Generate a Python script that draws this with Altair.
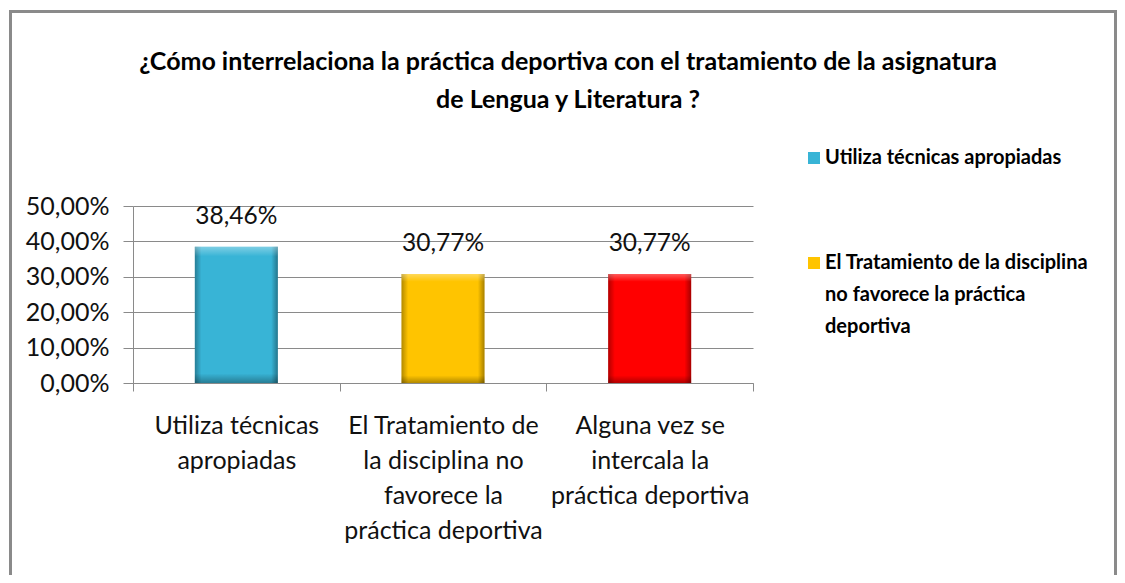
import json
import altair as alt
import pandas as pd

# ---- data ----
categories = [
    "Utiliza técnicas apropiadas",
    "El Tratamiento de la disciplina no favorece la práctica deportiva",
    "Alguna vez se intercala la práctica deportiva",
]
values = [0.3846, 0.3077, 0.3077]
x_label_lines = [
    ["Utiliza técnicas", "apropiadas"],
    ["El Tratamiento de", "la disciplina no", "favorece la", "práctica deportiva"],
    ["Alguna vez se", "intercala la", "práctica deportiva"],
]
legend_label_lines = [
    ["Utiliza técnicas apropiadas"],
    ["El Tratamiento de la disciplina", "no favorece la práctica", "deportiva"],
    ["Alguna vez se intercala la", "práctica deportiva"],
]
legend_shown = categories[:2]
colors = ["#38B4D6", "#FFC400", "#FF0000"]
title_lines = [
    "¿Cómo interrelaciona la práctica deportiva con el tratamiento de la asignatura",
    "de Lengua y Literatura ?",
]
y_ticks = [0.0, 0.1, 0.2, 0.3, 0.4, 0.5]

df = pd.DataFrame({"cat": categories, "val": values})
df["label"] = [f"{v*100:.2f}%".replace(".", ",") for v in values]

FONT = "Lato"
GRAY = "#8a8a8a"

x_map = json.dumps(dict(zip(categories, x_label_lines)), ensure_ascii=False)
lg_map = json.dumps(dict(zip(categories, legend_label_lines)), ensure_ascii=False)

x_enc = alt.X(
    "cat:N",
    sort=categories,
    scale=alt.Scale(paddingInner=0, paddingOuter=0),
    axis=alt.Axis(
        title=None,
        labelAngle=0,
        tickBand="extent",
        tickSize=8,
        tickColor=GRAY,
        domainColor=GRAY,
        labelFont=FONT,
        labelFontSize=25,
        labelColor="#111",
        labelLineHeight=35,
        labelPadding=22,
        labelBaseline="top",
        labelLimit=0,
        labelOverlap=False,
        labelExpr=f"{x_map}[datum.label]",
    ),
)
y_enc = alt.Y(
    "val:Q",
    scale=alt.Scale(domain=[0, 0.5], nice=False),
    axis=alt.Axis(
        title=None,
        values=y_ticks,
        tickCount=6,
        tickSize=10,
        tickColor=GRAY,
        domainColor=GRAY,
        gridColor=GRAY,
        labelFont=FONT,
        labelFontSize=25,
        labelColor="#111",
        labelPadding=14,
        labelOverlap=False,
        labelExpr="replace(format(datum.value, '.2%'), '.', ',')",
    ),
)

bars = alt.Chart(df).mark_bar(size=83).encode(
    x=x_enc,
    y=y_enc,
    color=alt.Color(
        "cat:N",
        scale=alt.Scale(domain=categories, range=colors),
        legend=alt.Legend(
            title=None,
            values=legend_shown,
            orient="none",
            legendX=671,
            legendY=-58,
            padding=0,
            symbolType="square",
            symbolSize=144,
            symbolStrokeWidth=0,
            symbolOpacity=1,
            labelFont=FONT,
            labelFontSize=20,
            labelFontWeight="bold",
            labelColor="#000",
            labelBaseline="middle",
            labelOffset=1,
            labelLimit=0,
            rowPadding=85,
            labelExpr=f"{lg_map}[datum.label]",
        ),
    ),
)

grad_h = alt.LinearGradient(
    gradient="linear", x1=0, y1=0, x2=1, y2=0,
    stops=[
        alt.GradientStop(offset=0, color="rgba(0,0,0,0.30)"),
        alt.GradientStop(offset=0.08, color="rgba(0,0,0,0.0)"),
        alt.GradientStop(offset=0.92, color="rgba(0,0,0,0.0)"),
        alt.GradientStop(offset=1, color="rgba(0,0,0,0.35)"),
    ],
)
grad_v = alt.LinearGradient(
    gradient="linear", x1=0, y1=0, x2=0, y2=1,
    stops=[
        alt.GradientStop(offset=0, color="rgba(255,255,255,0.35)"),
        alt.GradientStop(offset=0.07, color="rgba(255,255,255,0.0)"),
        alt.GradientStop(offset=0.93, color="rgba(0,0,0,0.0)"),
        alt.GradientStop(offset=1, color="rgba(0,0,0,0.30)"),
    ],
)
shade_h = alt.Chart(df).mark_bar(size=83, fill=grad_h).encode(x=x_enc, y=y_enc)
shade_v = alt.Chart(df).mark_bar(size=83, fill=grad_v).encode(x=x_enc, y=y_enc)

labels = alt.Chart(df).mark_text(
    font=FONT, fontSize=24.5, color="#111", baseline="alphabetic", dy=-23
).encode(x=x_enc, y=y_enc, text="label:N")

title = alt.Chart(pd.DataFrame({"t": [title_lines]})).mark_text(
    font=FONT, fontSize=25, fontWeight="bold", color="#000",
    lineHeight=38, align="center", baseline="middle",
).encode(x=alt.value(435), y=alt.value(-144), text="t")

frame = alt.Chart(pd.DataFrame({"f": [0]})).mark_rect(
    filled=False, stroke=GRAY, strokeWidth=3
).encode(
    x=alt.value(-122.5), x2=alt.value(982.5), y=alt.value(-194.5), y2=alt.value(520)
)

chart = alt.layer(frame, bars, shade_h, shade_v, labels, title).properties(
    width=620,
    height=177,
    autosize=alt.AutoSizeParams(type="none"),
    padding={"left": 125, "top": 198, "right": 364, "bottom": 192},
).configure(
    background="white",
    view=alt.ViewConfig(stroke=None),
    style={"guide-label": {"lineHeight": 32}},
)

chart.save("out.html", embed_options={"renderer": "svg", "actions": False})
